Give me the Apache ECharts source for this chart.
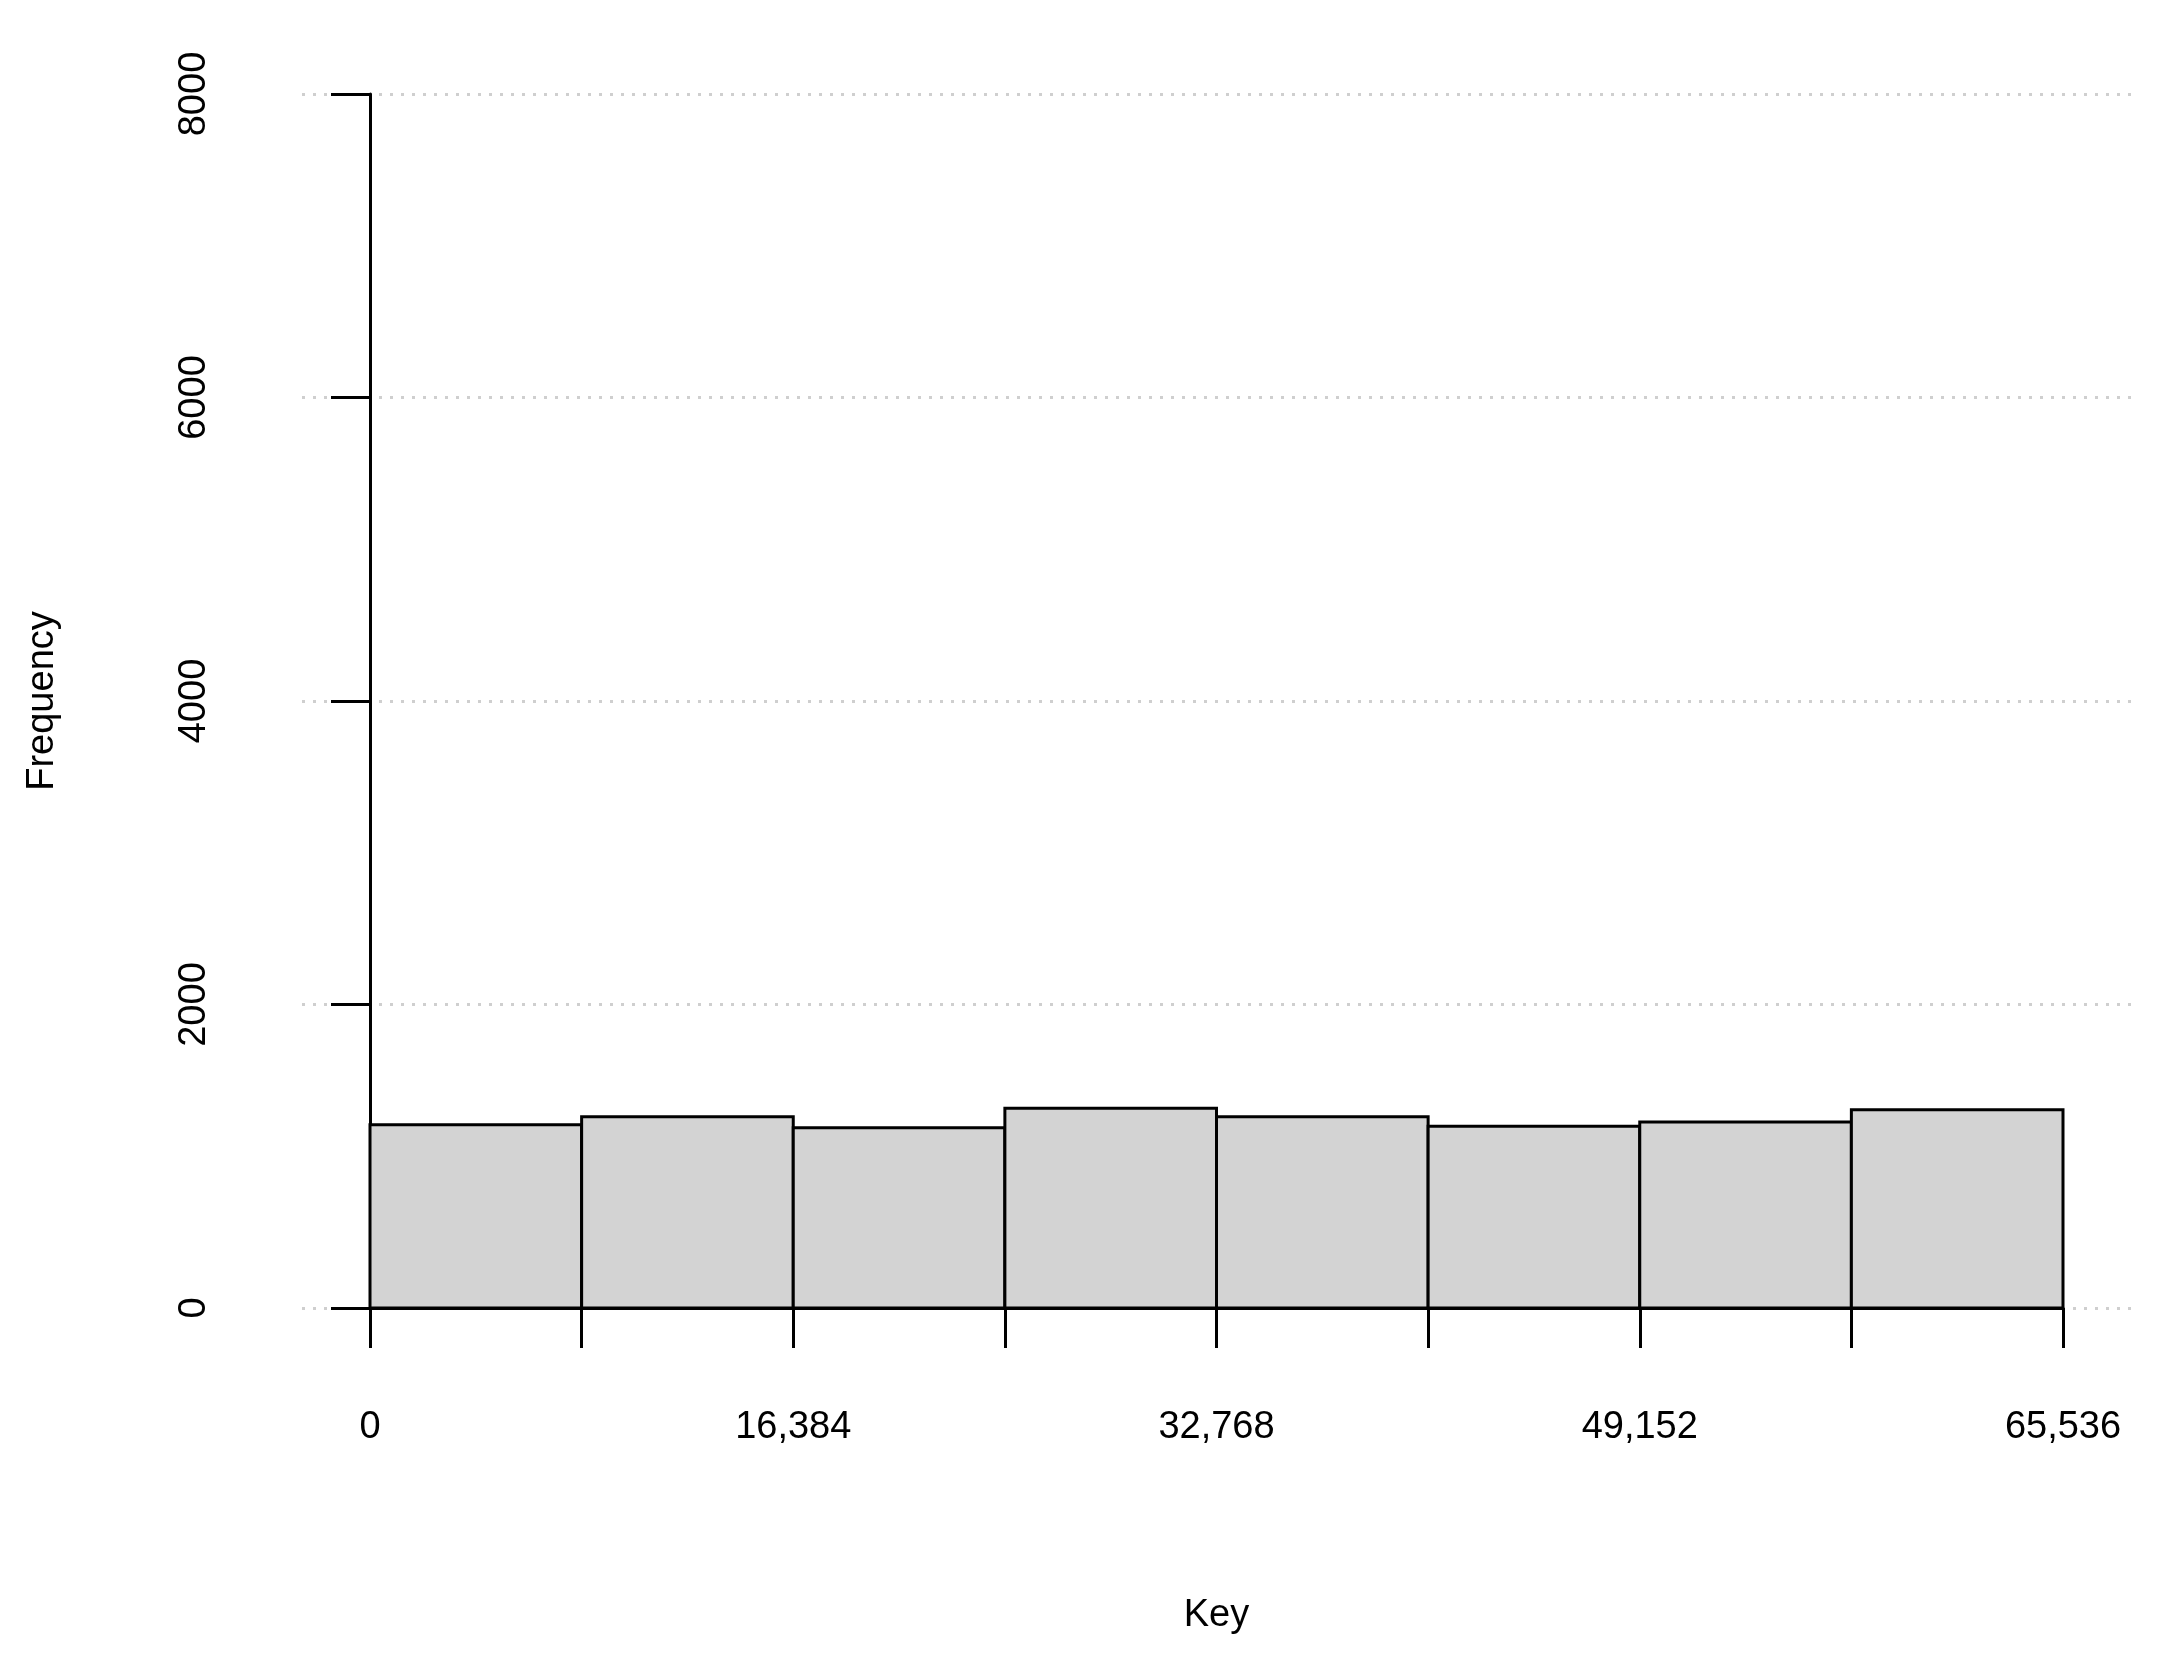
<!DOCTYPE html>
<html>
<head>
<meta charset="utf-8">
<script src="https://cdn.jsdelivr.net/npm/echarts@6/dist/echarts.min.js"></script>
<style>html,body{margin:0;padding:0;background:#fff}#chart{width:2175px;height:1670px}</style>
</head>
<body>
<div id="chart"></div>
<script>
// histogram bins (width 8192) and their counts
var binStarts = [0, 8192, 16384, 24576, 32768, 40960, 49152, 57344];
var binWidth = 8192;
var counts = [1207, 1261, 1188, 1316, 1261, 1197, 1225, 1307];
var xLabels = [0, 16384, 32768, 49152, 65536];
var yTicks = [0, 2000, 4000, 6000, 8000];

var font = 'Liberation Sans, Arial, sans-serif';
var gridTop = 94, gridBottom = 1670 - 1308;

function fmt(v) {
    return String(v).replace(/\B(?=(\d{3})+(?!\d))/g, ',');
}

var option = {
    backgroundColor: '#fff',
    animation: false,
    grid: [
        {left: 302, right: 39, top: gridTop, bottom: gridBottom},
        {left: 370, right: 2175 - 2063, top: gridTop, bottom: gridBottom}
    ],
    xAxis: [
        {gridIndex: 0, type: 'value', min: 0, max: 1, show: false},
        {
            gridIndex: 1, type: 'value', min: 0, max: 65536, interval: binWidth,
            offset: 49,
            name: 'Key', nameLocation: 'middle', nameGap: 240,
            nameTextStyle: {fontFamily: font, fontSize: 38, color: '#000'},
            axisLine: {lineStyle: {color: '#000', width: 3}},
            axisTick: {length: 40, lineStyle: {color: '#000', width: 3}},
            splitLine: {show: false},
            axisLabel: {
                margin: 52, fontFamily: font, fontSize: 38, color: '#000',
                formatter: function (v) { return xLabels.indexOf(v) >= 0 ? fmt(v) : ''; }
            }
        }
    ],
    yAxis: [
        {
            gridIndex: 0, type: 'value', min: 0, max: 8000, interval: 2000,
            axisLine: {show: false}, axisTick: {show: false}, axisLabel: {show: false},
            splitLine: {lineStyle: {color: '#cfcfcf', width: 3, type: [3, 8]}}
        },
        {
            gridIndex: 1, type: 'value', min: 0, max: 8000, interval: 2000,
            offset: 68,
            name: 'Frequency', nameLocation: 'middle', nameGap: 240,
            nameTextStyle: {fontFamily: font, fontSize: 38, color: '#000'},
            axisLine: {show: true, lineStyle: {color: '#000', width: 3}},
            axisTick: {show: true, length: 39, lineStyle: {color: '#000', width: 3}},
            splitLine: {show: false},
            axisLabel: {
                rotate: 90, margin: 88, fontFamily: font, fontSize: 38, color: '#000',
                formatter: function (v) { return yTicks.indexOf(v) >= 0 ? String(v) : ''; }
            }
        }
    ],
    series: [{
        type: 'custom',
        xAxisIndex: 1,
        yAxisIndex: 1,
        data: binStarts.map(function (s, i) { return [s, s + binWidth, counts[i]]; }),
        encode: {x: [0, 1], y: 2},
        renderItem: function (params, api) {
            var p0 = api.coord([api.value(0), 0]);
            var p1 = api.coord([api.value(1), api.value(2)]);
            return {
                type: 'rect',
                shape: {x: p0[0], y: p1[1], width: p1[0] - p0[0], height: p0[1] - p1[1]},
                style: {fill: '#d3d3d3', stroke: '#000', lineWidth: 3}
            };
        }
    }]
};

var chart = echarts.init(document.getElementById('chart'));
chart.setOption(option);
</script>
</body>
</html>
